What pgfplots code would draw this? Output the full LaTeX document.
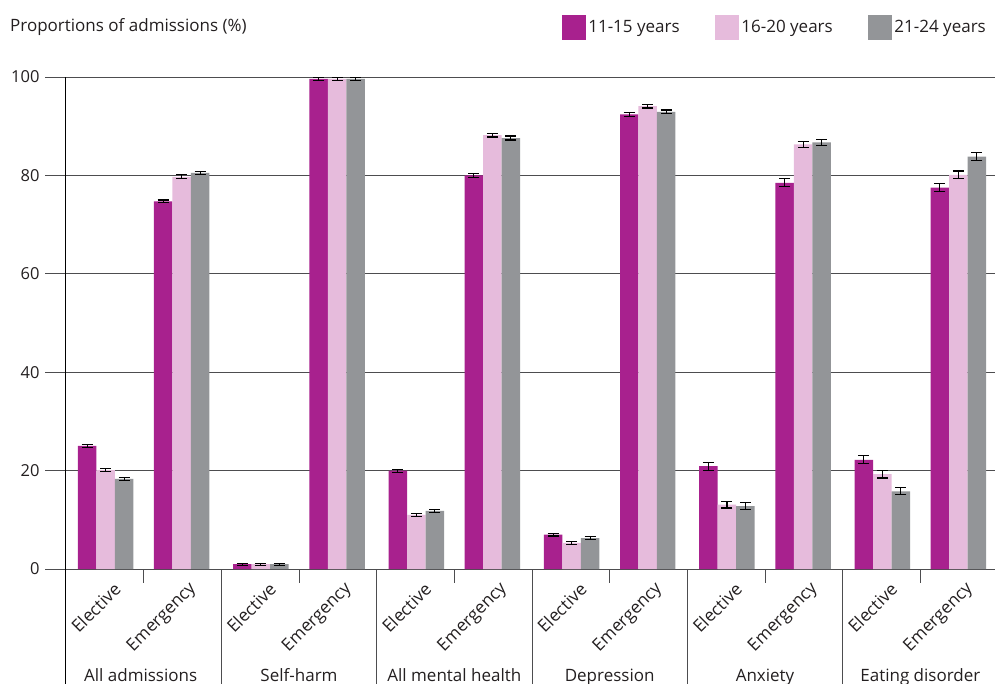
\documentclass[border=0pt]{standalone}
\usepackage{fontspec}
\setmainfont{Open Sans}
\usepackage{pgfplots}
\usepackage{pgfplotstable}
\pgfplotsset{compat=1.18}
\definecolor{cA}{HTML}{A8218E}
\definecolor{cB}{HTML}{E6BBDC}
\definecolor{cC}{HTML}{939598}
\definecolor{txt}{HTML}{231F20}
\definecolor{gridc}{HTML}{4D4D4F}
\newcommand{\fs}{\fontsize{16.5bp}{20bp}\selectfont}
\newcommand{\ft}{\fontsize{17bp}{20bp}\selectfont}
\newcommand{\fx}{\fontsize{17.3bp}{20bp}\selectfont}

% x: Elective at 2g+0.51, Emergency at 2g+1.49
\pgfplotstableread{
x y e
0.51 25.0 0.3
1.49 74.7 0.3
2.51 1.0 0.2
3.49 99.6 0.3
4.51 20.0 0.3
5.49 80.0 0.4
6.51 7.0 0.3
7.49 92.4 0.4
8.51 20.9 0.8
9.49 78.5 0.8
10.51 22.2 0.8
11.49 77.5 0.8
}\tA
\pgfplotstableread{
x y e
0.51 20.1 0.3
1.49 79.7 0.4
2.51 1.0 0.2
3.49 99.6 0.3
4.51 11.0 0.3
5.49 88.2 0.4
6.51 5.3 0.3
7.49 94.1 0.4
8.51 13.1 0.7
9.49 86.3 0.6
10.51 19.3 0.8
11.49 80.1 0.8
}\tB
\pgfplotstableread{
x y e
0.51 18.3 0.3
1.49 80.5 0.3
2.51 1.0 0.2
3.49 99.6 0.3
4.51 11.8 0.3
5.49 87.6 0.4
6.51 6.3 0.3
7.49 92.9 0.4
8.51 12.8 0.7
9.49 86.7 0.6
10.51 15.8 0.7
11.49 83.8 0.8
}\tC

\begin{document}
\begin{tikzpicture}
\begin{axis}[
  scale only axis, width=932bp, height=492bp,
  xmin=0, xmax=12, ymin=0, ymax=100,
  clip=false,
  ybar=0pt, bar width=0.238,
  axis lines=left,
  axis line style={-},
  x axis line style={draw=none},
  y axis line style={draw=black, line width=1bp},
  ymajorgrids, grid style={gridc, line width=0.9bp},
  ytick={0,20,40,60,80,100},
  tick align=outside, major tick length=21bp,
  tick style={gridc, line width=0.9bp},
  xtick=\empty,
  extra x ticks={0.51,1.49,2.51,3.49,4.51,5.49,6.51,7.49,8.51,9.49,10.51,11.49},
  extra x tick labels={Elective,Emergency,Elective,Emergency,Elective,Emergency,Elective,Emergency,Elective,Emergency,Elective,Emergency},
  extra x tick style={major tick length=0pt, tick style={draw=none}, grid=none,
    xticklabel style={rotate=45, anchor=east, inner sep=0pt, font=\fx, xshift=-3.7bp, yshift=-20.5bp}},
  tick label style={font=\fs, text=txt},
  yticklabel style={xshift=-2bp},
  /pgf/number format/assume math mode=true,
  legend columns=3,
  legend style={draw=none, fill=none, inner sep=0pt, font=\ft, text=txt,
    at={(rel axis cs:1,1)}, anchor=south east, xshift=-10bp, yshift=37bp,
    /tikz/every even column/.append style={column sep=33bp}},
  legend image code/.code={\fill[#1] (0bp,-12.3bp) rectangle (24.7bp,12.3bp);},
  error bars/y dir=both, error bars/y explicit,
  error bars/error mark options={rotate=90, mark size=5.5bp, line width=1.1bp, black},
  error bars/error bar style={line width=1.1bp, black},
]
\addplot[fill=cA, draw=none] table[x=x, y=y, y error=e] {\tA};
\addplot[fill=cB, draw=none] table[x=x, y=y, y error=e] {\tB};
\addplot[fill=cC, draw=none] table[x=x, y=y, y error=e] {\tC};
\legend{11-15 years, 16-20 years, 21-24 years}
\coordinate (O) at (axis cs:0,0);
\draw[black, line width=1bp] (axis cs:0,0) -- ([yshift=-115bp]axis cs:0,0);
\draw[gridc, line width=0.9bp] (axis cs:2,0) -- ([yshift=-115bp]axis cs:2,0);
\draw[gridc, line width=0.9bp] (axis cs:4,0) -- ([yshift=-115bp]axis cs:4,0);
\draw[gridc, line width=0.9bp] (axis cs:6,0) -- ([yshift=-115bp]axis cs:6,0);
\draw[gridc, line width=0.9bp] (axis cs:8,0) -- ([yshift=-115bp]axis cs:8,0);
\draw[gridc, line width=0.9bp] (axis cs:10,0) -- ([yshift=-115bp]axis cs:10,0);
\draw[gridc, line width=0.9bp] (axis cs:1,0) -- ([yshift=-14bp]axis cs:1,0);
\draw[gridc, line width=0.9bp] (axis cs:3,0) -- ([yshift=-14bp]axis cs:3,0);
\draw[gridc, line width=0.9bp] (axis cs:5,0) -- ([yshift=-14bp]axis cs:5,0);
\draw[gridc, line width=0.9bp] (axis cs:7,0) -- ([yshift=-14bp]axis cs:7,0);
\draw[gridc, line width=0.9bp] (axis cs:9,0) -- ([yshift=-14bp]axis cs:9,0);
\draw[gridc, line width=0.9bp] (axis cs:11,0) -- ([yshift=-14bp]axis cs:11,0);
\node[anchor=base, font=\ft, text=txt, inner sep=0pt] at ([xshift=-3bp, yshift=-112bp]axis cs:1,0) {All admissions};
\node[anchor=base, font=\ft, text=txt, inner sep=0pt] at ([yshift=-112bp]axis cs:3,0) {Self-harm};
\node[anchor=base, font=\ft, text=txt, inner sep=0pt] at ([yshift=-112bp]axis cs:5,0) {All mental health};
\node[anchor=base, font=\ft, text=txt, inner sep=0pt] at ([yshift=-112bp]axis cs:7,0) {Depression};
\node[anchor=base, font=\ft, text=txt, inner sep=0pt] at ([yshift=-112bp]axis cs:9,0) {Anxiety};
\node[anchor=base, font=\ft, text=txt, inner sep=0pt] at ([yshift=-112bp]axis cs:11,0) {Eating disorder};
\node[anchor=base west, font=\ft, text=txt, inner sep=0pt] at ([xshift=-56bp, yshift=45bp]axis cs:0,100) {Proportions of admissions (\%)};
\end{axis}
\pgfresetboundingbox
\path[use as bounding box] ([shift={(-66bp,-115bp)}]O) rectangle ([shift={(929bp,569bp)}]O);
\end{tikzpicture}
\end{document}
